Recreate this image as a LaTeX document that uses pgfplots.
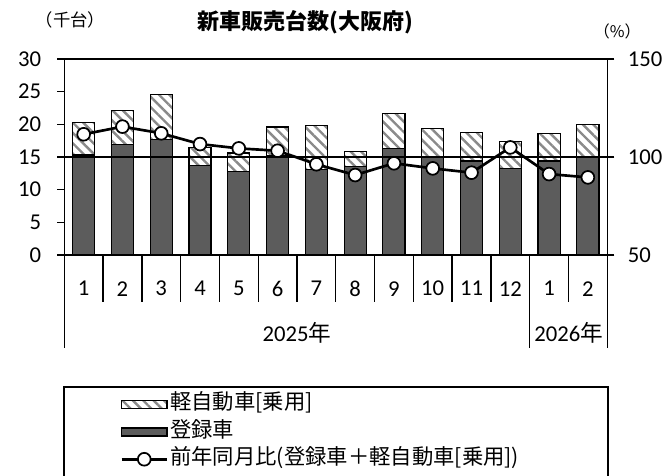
\documentclass[border=0pt]{standalone}
\usepackage{fontspec}
\setmainfont{Carlito}
\newfontfamily\jp{Noto Sans CJK JP}
\usepackage{pgfplots}
\usepackage{pgfplotstable}
\pgfplotsset{compat=1.18}
\usetikzlibrary{patterns.meta}

\definecolor{regbar}{HTML}{5C5C5C}
\definecolor{hatchgray}{HTML}{8A8A8A}

% monthly sales (thousand units) and year-on-year ratio (%)
\pgfplotstableread{
m  reg   kei   ratio
1  15.3  5.0   111.6
2  16.9  5.25  115.5
3  17.7  6.9   112.1
4  13.7  2.7   106.6
5  12.8  2.8   104.4
6  15.2  4.4   103.2
7  13.1  6.7   96.3
8  13.5  2.3   90.8
9  16.3  5.4   96.8
10 14.9  4.5   94.2
11 14.4  4.4   92.0
12 13.2  4.2   104.9
13 14.4  4.2   91.3
14 15.1  4.85  89.6
}\sales

\tikzset{
  keistyle/.style={draw=black, line width=0.9pt,
    pattern={Lines[angle=-45,distance=5.5pt,line width=1.8pt]},
    pattern color=hatchgray},
  regstyle/.style={draw=black, line width=0.9pt, fill=regbar},
}

\pgfplotsset{
  rectlegend/.style={legend image code/.code={\draw[##1] (0pt,-3pt) rectangle (34pt,3pt);}},
  marklegend/.style={legend image code/.code={\draw[mark repeat=2, mark phase=2, ##1]
    plot coordinates {(0pt,0pt) (17pt,0pt) (34pt,0pt)};}},
  common/.style={
    at={(48.2pt,-191.25pt)}, anchor=south west,
    scale only axis, width=407.25pt, height=147pt,
    xmin=0.5, xmax=14.5,
    axis line style={line width=1pt},
    tick style={line width=1pt, black},
    tick align=outside,
    major tick length=5.25pt,
    /pgf/number format/assume math mode=true,
    ticklabel style={font=\fontsize{17}{20}\selectfont},
  },
}

\begin{document}
\begin{tikzpicture}
\useasboundingbox (0,0) rectangle (500.25pt,-356.25pt);
\clip (0,0) rectangle (500.25pt,-356.25pt);

% bars on the left axis (thousand units)
\begin{axis}[common,
  ymin=0, ymax=30, ytick={0,5,...,30}, ytick pos=left,
  ybar stacked, bar width=0.57,
  xtick={1,...,14},
  xticklabels={1,2,3,4,5,6,7,8,9,10,11,12,1,2},
  xtick pos=lower,
  xtick style={/pgfplots/major tick length=0pt},
  minor xtick={1.5,2.5,3.5,4.5,5.5,6.5,7.5,8.5,9.5,10.5,11.5,13.5},
  minor tick length=35pt,
  xticklabel style={anchor=center, yshift=-20pt},
  yticklabel style={anchor=east, inner sep=0pt, xshift=-12pt},
  clip=false,
]
\addplot[regstyle] table[x=m, y=reg] {\sales};
\addplot[keistyle] table[x=m, y=kei] {\sales};
% long separators framing the year groups
\draw[line width=1pt] (axis cs:0.5,0) -- ([yshift=-70pt]axis cs:0.5,0);
\draw[line width=1pt] (axis cs:12.5,0) -- ([yshift=-70pt]axis cs:12.5,0);
\draw[line width=1pt] (axis cs:14.5,0) -- ([yshift=-70pt]axis cs:14.5,0);
\end{axis}

% ratio on the right axis (%)
\begin{axis}[common,
  ymin=50, ymax=150, ytick={50,100,150},
  axis x line=none, axis y line*=right,
  yticklabel style={anchor=west, inner sep=0pt, xshift=10pt},
  legend style={at={(0.1026,-0.704)}, anchor=north west, draw=none, fill=none,
    inner sep=0pt, row sep=3.5pt,
    font=\jp\fontsize{16}{19}\selectfont,
    nodes={inner sep=1.5pt, text height=11pt, text depth=3pt},
    cells={anchor=west}},
  clip=false,
]
\addplot[black, line width=1.6pt, forget plot] coordinates {(0.5,100) (14.5,100)};
\addlegendimage{keistyle, rectlegend}
\addlegendentry{軽自動車[乗用]}
\addlegendimage{regstyle, rectlegend}
\addlegendentry{登録車}
\addplot[black, line width=2pt, mark=*, mark size=4.8pt,
  mark options={fill=white, draw=black, line width=1.3pt}, marklegend]
  table[x=m, y=ratio] {\sales};
\addlegendentry{前年同月比(登録車＋軽自動車[乗用])}
\end{axis}

% legend frame, cut off at the page edge
\draw[line width=1pt] (48pt,-290.25pt) rectangle (456pt,-400pt);

% titles and unit labels
\node[font=\jp\bfseries\fontsize{16.5}{20}\selectfont] at (228.75pt,-16.5pt) {新車販売台数(大阪府)};
\node[font=\jp\fontsize{13}{15}\selectfont] at (53pt,-15pt) {（千台）};
\node[font=\jp\fontsize{12}{14}\selectfont] at (463pt,-23.5pt) {（\%）};

% year labels
\node[font=\fontsize{17}{20}\selectfont] at (222.75pt,-249.75pt) {2025{\jp 年}};
\node[font=\fontsize{17}{20}\selectfont] at (426.5pt,-249.75pt) {2026{\jp 年}};
\end{tikzpicture}
\end{document}
